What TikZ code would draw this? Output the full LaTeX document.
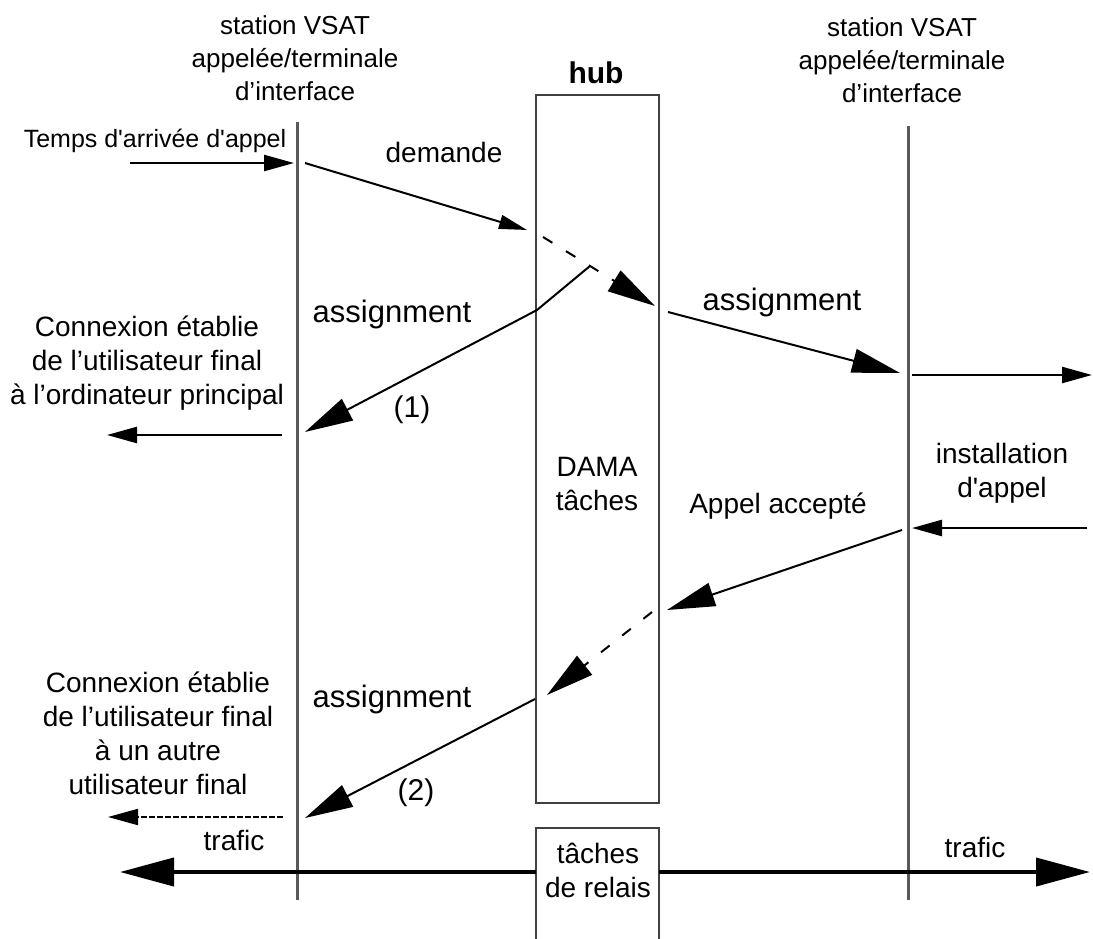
\documentclass[tikz,border=0pt]{standalone}
\usepackage{fontspec}
\setmainfont{Liberation Sans}
\usetikzlibrary{arrows.meta}

\begin{document}
\begin{tikzpicture}[x=1pt,y=-1pt,
  lifeline/.style={line width=3pt,black!65},
  taskbox/.style={draw=black!75,line width=2.5pt},
  msg/.style={line width=2pt,-{Triangle[length=48pt,width=24pt]}},
  dashmsg/.style={msg,dash pattern=on 11pt off 16pt},
  side/.style={line width=2.5pt,-{Triangle[length=30pt,width=16pt]}},
  traffic/.style={line width=4pt,-{Triangle[length=54pt,width=28pt]}},
  lbl/.style={inner sep=0pt,align=center,font=\fontsize{28}{34}\selectfont},
  biglbl/.style={inner sep=0pt,font=\fontsize{31}{36}\selectfont}]

\useasboundingbox (0,0) rectangle (1093,938);

% stations and hub
\node[lbl,font=\fontsize{26}{33}\selectfont] (vsatL) at (295,58) {station VSAT\\appelée/terminale\\d’interface};
\node[lbl,font=\fontsize{26}{33}\selectfont] (vsatR) at (902,60) {station VSAT\\appelée/terminale\\d’interface};

\coordinate (topL) at (297,122);
\coordinate (botL) at (297,900);
\coordinate (topR) at (908,126);
\coordinate (botR) at (908,900);
\draw[lifeline] (topL) -- (botL);
\draw[lifeline] (topR) -- (botR);

\node[taskbox,minimum width=123pt,minimum height=708pt,inner sep=0pt] (hub) at (597.5,449) {};
\node[inner sep=0pt,anchor=base,font=\bfseries\fontsize{30}{36}\selectfont] (hubname) at (596,83) {hub};
\node[lbl] (dama) at (597,484) {DAMA\\tâches};

\draw[taskbox] (536,945) |- (659,828) -- (659,945);
\node[lbl] (relais) at (598,870) {tâches\\de relais};
\coordinate (relW) at (536,872);
\coordinate (relE) at (659,872);

% call request
\coordinate (tin) at (130,163);
\coordinate (tout) at (294,163);
\draw[side] (tin) -- (tout);
\node[inner sep=0pt,anchor=base,font=\fontsize{25}{30}\selectfont] (temps) at (155,147) {Temps d\textquotesingle arrivée d\textquotesingle appel};

\coordinate (dem0) at (305,163);
\coordinate (dem1) at (527,230);
\draw[msg,-{Triangle[length=28pt,width=14pt]}] (dem0) -- (dem1);
\node[lbl,anchor=base] (demande) at (444,162) {demande};

\coordinate (dashA) at (543,237);
\coordinate (hit) at (590,266);
\coordinate (dashB) at (655,306);
\draw[dashmsg] (dashA) -- (dashB);

% assignment (1)
\coordinate (bend1) at (537,310);
\coordinate (ret1) at (305,432);
\draw[msg] (hit) -- (bend1) -- (ret1);
\node[biglbl,anchor=base] (asgL1) at (392,322) {assignment};
\node[lbl,font=\fontsize{30}{36}\selectfont] (one) at (412,410) {(1)};

\coordinate (outL1a) at (282,435);
\coordinate (outL1b) at (107,435);
\draw[side] (outL1a) -- (outL1b);
\node[lbl] (conn1) at (147,363) {Connexion établie\\de l’utilisateur final\\à l’ordinateur principal};

\coordinate (asgR0) at (668,312);
\coordinate (asgR1) at (900,373);
\draw[msg] (asgR0) -- (asgR1);
\node[biglbl,anchor=base] (asgR) at (782,310) {assignment};

\coordinate (outRa) at (912,375);
\coordinate (outRb) at (1092,375);
\draw[side] (outRa) -- (outRb);

% call set-up
\node[lbl] (install) at (1002,473) {installation\\d\textquotesingle appel};
\coordinate (instA) at (1087,528);
\coordinate (instB) at (912,528);
\draw[side] (instA) -- (instB);

\coordinate (acc0) at (902,530);
\coordinate (acc1) at (667,610);
\draw[msg] (acc0) -- (acc1);
\node[lbl,anchor=base] (accept) at (778,513) {Appel accepté};

\coordinate (dashC) at (652,612);
\coordinate (dashD) at (547,695);
\draw[dashmsg] (dashC) -- (dashD);

% assignment (2)
\coordinate (ret2a) at (535,699);
\coordinate (ret2b) at (305,818);
\draw[msg] (ret2a) -- (ret2b);
\node[biglbl,anchor=base] (asgL2) at (392,707) {assignment};
\node[lbl,font=\fontsize{30}{36}\selectfont] (two) at (416,793) {(2)};

\coordinate (outL2a) at (283,817);
\coordinate (outL2b) at (108,817);
\draw[side,line width=2pt,dash pattern=on 6pt off 2pt] (outL2a) -- (outL2b);
\node[lbl] (conn2) at (158,733) {Connexion établie\\de l’utilisateur final\\à un autre\\utilisateur final};

% traffic
\coordinate (trafL) at (120,872);
\coordinate (trafR) at (1090,872);
\draw[traffic] (relW) -- (trafL);
\draw[traffic] (relE) -- (trafR);
\node[lbl,anchor=base] (trafficL) at (234,850) {trafic};
\node[lbl,anchor=base] (trafficR) at (975,857) {trafic};

\end{tikzpicture}
\end{document}
